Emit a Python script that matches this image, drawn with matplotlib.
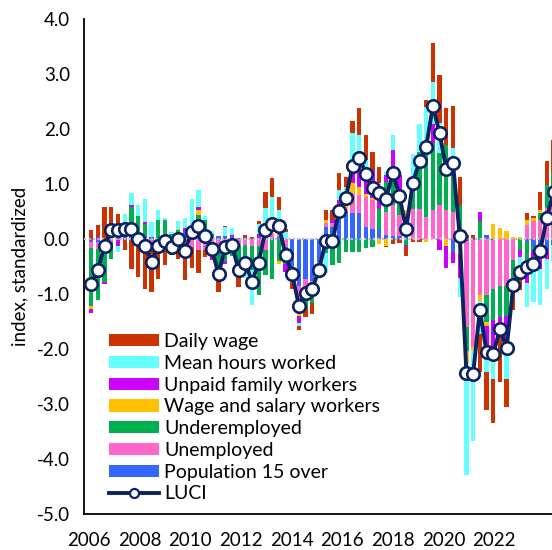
import matplotlib
matplotlib.use("Agg")
import matplotlib.pyplot as plt
import numpy as np
from matplotlib.lines import Line2D
from matplotlib.ticker import FormatStrFormatter

plt.rcParams["font.family"] = ["Lato", "DejaVu Sans"]
plt.rcParams["axes.unicode_minus"] = False

# contributions to LUCI, one value per period
population_15 = [-0.05, -0.05, -0.03, 0.02, 0.03, 0.08, 0.10, 0.05, 0.07, 0.03,
                 0.01, 0.00, 0.02, 0.10, 0.14, 0.15, 0.13, 0.07, 0.05, 0.05,
                 0.05, 0.03, 0.02, 0.01, 0.00, 0.02, 0.05, 0.02, 0.03, 0.00,
                 -0.68, -0.85, -0.73, -0.77, -0.42, 0.21, 0.22, 0.47, 0.49, 0.48,
                 0.48, 0.22, 0.19, 0.19, 0.07, 0.06, 0.05, 0.03, 0.00, 0.00,
                 0.00, 0.00, 0.00, 0.00, -0.23, -0.10, -0.03, -0.02, -0.02, 0.07,
                 -0.02, 0.00, 0.00, 0.00, 0.00, -0.05, -0.12, -0.12, -0.16, -0.10]
unemployed = [-0.12, -0.13, -0.05, -0.05, -0.02, 0.00, 0.00, 0.08, 0.00, -0.05,
              -0.03, -0.18, -0.10, -0.14, -0.14, -0.14, -0.20, -0.20, -0.14, -0.18,
              -0.15, -0.15, -0.10, -0.10, -0.12, -0.12, -0.20, 0.08, 0.15, -0.15,
              -0.10, -0.25, -0.15, -0.10, -0.10, 0.09, 0.08, 0.15, 0.06, 0.35,
              0.32, 0.55, 0.52, 0.00, 0.42, 0.55, 0.39, 0.45, 0.55, 0.55,
              0.40, 0.53, 0.62, 0.53, 0.50, 0.00, -1.57, -1.94, -1.00, -1.02,
              -0.88, -0.85, -0.85, -0.38, 0.00, 0.25, 0.32, 0.35, 0.56, 0.60]
underemployed = [-1.05, -0.93, -0.70, -0.32, 0.07, 0.15, 0.49, 0.28, 0.21, 0.00,
                 0.33, 0.35, 0.08, 0.06, 0.00, 0.00, 0.30, 0.27, 0.04, -0.45,
                 -0.25, -0.15, -0.37, -0.50, -0.45, -0.90, -0.45, -0.72, -0.40, -0.30,
                 0.00, -0.20, -0.38, -0.30, 0.00, -0.26, -0.47, -0.44, -0.23, -0.23,
                 -0.23, -0.17, -0.14, 0.36, 0.55, 0.55, 0.42, -0.11, 0.30, 1.03,
                 1.27, 1.21, 0.94, 1.18, 1.01, 0.60, -0.43, 0.00, 0.33, -0.48,
                 -0.57, -0.56, -0.55, -0.36, -0.20, -0.35, -0.08, 0.12, 0.42, 0.60]
wage_salary = [-0.05, 0.00, 0.00, 0.00, 0.00, 0.04, 0.00, 0.00, 0.00, 0.00,
               0.00, 0.00, 0.00, 0.03, 0.00, 0.00, 0.09, 0.00, 0.00, 0.00,
               0.00, 0.00, 0.00, 0.00, 0.00, 0.00, 0.00, 0.06, -0.05, 0.00,
               0.00, -0.10, 0.00, 0.00, 0.00, 0.05, 0.00, 0.00, 0.21, 0.18,
               0.15, 0.05, 0.03, -0.09, -0.12, 0.00, 0.00, 0.04, 0.00, 0.00,
               -0.05, 0.00, 0.00, -0.12, 0.00, -0.18, -0.24, -0.06, -0.10, -0.08,
               0.28, 0.20, 0.15, 0.04, 0.03, 0.10, 0.06, 0.06, 0.00, 0.00]
unpaid_family = [-0.07, 0.03, -0.04, 0.00, -0.10, 0.00, 0.03, 0.00, 0.03, 0.00,
                 0.00, 0.00, 0.00, 0.00, 0.06, 0.09, 0.06, 0.00, -0.24, 0.00,
                 -0.05, 0.05, 0.00, 0.00, 0.00, 0.07, 0.00, 0.00, 0.00, -0.15,
                 0.00, -0.12, 0.00, 0.00, -0.05, 0.00, 0.05, 0.09, 0.00, 0.39,
                 0.42, 0.30, 0.51, 0.41, 0.12, 0.45, 0.30, -0.04, 0.15, 0.00,
                 0.00, 0.36, -0.20, -0.41, -0.21, -0.42, 0.00, 0.00, 0.17, -0.38,
                 -0.52, -0.24, -0.55, 0.00, -0.12, -0.40, -0.36, -0.42, -0.20, 0.00]
mean_hours = [0.00, 0.00, 0.00, 0.00, -0.11, 0.18, 0.21, 0.21, 0.41, 0.28,
              0.19, 0.03, 0.02, 0.13, 0.18, 0.48, 0.32, 0.08, 0.05, 0.00,
              0.16, 0.12, 0.00, -0.10, -0.63, 0.18, 0.51, 0.61, 0.35, 0.12,
              0.00, -0.06, 0.00, 0.00, -0.15, -0.36, 0.00, 0.18, 0.19, 0.53,
              0.53, 0.31, 0.00, 0.05, 0.05, 0.28, 0.06, 0.00, 0.55, 0.52,
              0.73, 0.76, 0.55, 0.00, 0.14, -0.35, -2.02, -1.65, -0.60, -0.45,
              -0.56, -0.10, -0.60, 0.00, -0.20, -0.43, -0.58, -0.66, -0.54, -0.30]
daily_wage = [0.17, 0.22, 0.59, 0.56, 0.35, -0.20, -0.55, -0.69, -0.90, -0.91,
              -0.69, -0.29, -0.19, -0.23, -0.61, -0.39, -0.41, -0.12, 0.00, -0.33,
              0.02, 0.00, -0.40, 0.06, 0.03, 0.06, 0.30, 0.33, 0.24, 0.06,
              -0.12, -0.07, -0.15, -0.20, 0.00, 0.18, 0.18, 0.31, 0.18, 0.22,
              0.49, 0.47, 0.33, 0.30, -0.03, -0.09, -0.08, -0.16, -0.06, -0.05,
              0.12, 0.70, 0.87, 0.67, 0.77, 0.53, 0.07, 0.07, -0.70, -0.69,
              -0.80, -0.85, -0.50, -0.55, -0.40, 0.13, 0.04, 0.33, 0.44, 0.60]
luci = [-0.81, -0.56, -0.12, 0.16, 0.16, 0.18, 0.19, 0.00, -0.12, -0.42,
        -0.12, -0.04, -0.15, 0.00, -0.21, 0.13, 0.24, 0.05, -0.18, -0.64,
        -0.15, -0.11, -0.56, -0.43, -0.78, -0.43, 0.16, 0.28, 0.24, -0.29,
        -0.64, -1.21, -0.98, -0.90, -0.56, -0.04, -0.04, 0.51, 0.75, 1.32,
        1.48, 1.19, 0.93, 0.83, 0.72, 1.20, 0.79, 0.18, 1.02, 1.41,
        1.68, 2.42, 1.92, 1.27, 1.38, 0.06, -2.43, -2.46, -1.29, -2.05,
        -2.09, -1.64, -1.99, -0.84, -0.60, -0.50, -0.46, -0.22, 0.38, 0.86]
year_labels = [2006, 2008, 2010, 2012, 2014, 2016, 2018, 2020, 2022]

# stacking order, from the zero line outwards
series = [
    ("Population 15 over", population_15, "#3366FF"),
    ("Unemployed", unemployed, "#FF66CC"),
    ("Underemployed", underemployed, "#00B050"),
    ("Wage and salary workers", wage_salary, "#FFC000"),
    ("Unpaid family workers", unpaid_family, "#CC00FF"),
    ("Mean hours worked", mean_hours, "#66FFFF"),
    ("Daily wage", daily_wage, "#CC3300"),
]
NAVY = "#0B2361"

fig = plt.figure(figsize=(5.52, 5.5), dpi=100)
# plot area runs past the right edge of the image, as in the reference
ax = fig.add_axes([84 / 552, 36 / 550, 516 / 552, 495 / 550])

x = np.arange(len(luci))
pos_base = np.zeros(len(x))
neg_base = np.zeros(len(x))
handles = []
for name, vals, col in series:
    v = np.asarray(vals, dtype=float)
    base = np.where(v >= 0, pos_base, neg_base)
    h = ax.bar(x, v, width=0.64, bottom=base, color=col, linewidth=0, zorder=2,
               label=name)
    handles.append(h)
    pos_base += np.clip(v, 0, None)
    neg_base += np.clip(v, None, 0)

ax.axhline(0, color="#BFBFBF", lw=1.6, ls=(0, (1, 1)), zorder=3)
ln, = ax.plot(x, luci, color=NAVY, lw=2.8, marker="o", ms=9,
              mfc="white", mec=NAVY, mew=1.9, zorder=4)

ax.set_xlim(-1.075, -1.075 + 516 / 6.7)
ax.set_ylim(-5, 4)
ax.set_yticks(np.arange(-5, 4.01, 1))
ax.yaxis.set_major_formatter(FormatStrFormatter("%.1f"))
tick_pos = [-0.33 + 7.56 * k for k in range(len(year_labels))]
ax.set_xticks(tick_pos)
ax.set_xticklabels([str(y) for y in year_labels])
ax.tick_params(axis="both", length=0, labelsize=13.5, colors="black")
ax.tick_params(axis="y", pad=10)
ax.tick_params(axis="x", pad=13)
for s in ("top", "right"):
    ax.spines[s].set_visible(False)
for s in ("left", "bottom"):
    ax.spines[s].set_linewidth(1.3)
    ax.spines[s].set_color("black")
ax.set_ylabel("index, standardized", fontsize=13.5, labelpad=6)

lucih = Line2D([], [], color=NAVY, lw=2.8, marker="o", ms=6.5, mfc="white",
               mec=NAVY, mew=1.6)
leg_handles = handles[::-1] + [lucih]
leg_labels = [s[0] for s in series[::-1]] + ["LUCI"]
ax.legend(leg_handles, leg_labels, loc="upper left",
          bbox_to_anchor=(109 / 552, 1 - 333 / 550), bbox_transform=fig.transFigure,
          frameon=False, fontsize=14, handlelength=2.55, handleheight=0.6,
          handletextpad=0.3, labelspacing=0.245, borderaxespad=0, borderpad=0)

fig.savefig("out.png", dpi=100)
